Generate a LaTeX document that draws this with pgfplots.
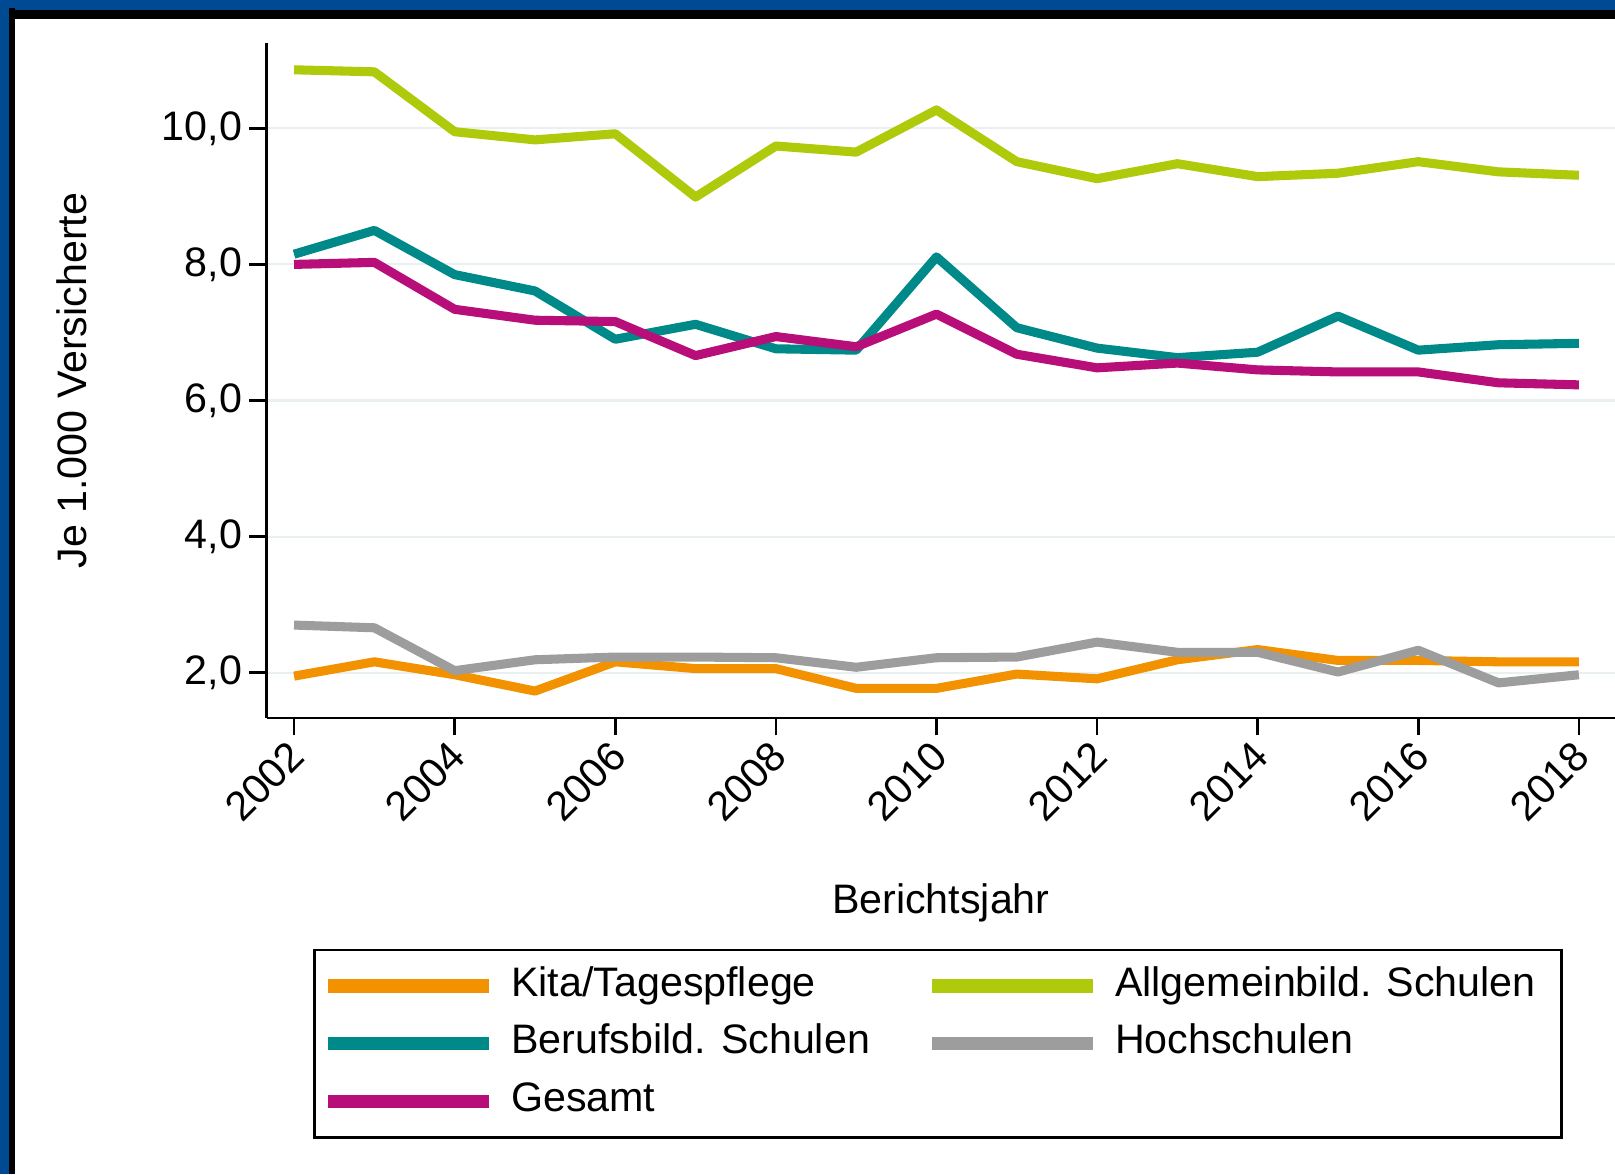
\documentclass[border=0pt]{standalone}
\usepackage{fontspec}
\setmainfont{Liberation Sans}
\usepackage{pgfplots}
\pgfplotsset{compat=1.18}
\definecolor{frameblue}{RGB}{0,74,147}
\definecolor{cKita}{RGB}{243,146,0}
\definecolor{cAllg}{RGB}{175,202,11}
\definecolor{cBeruf}{RGB}{0,137,137}
\definecolor{cHoch}{RGB}{157,157,157}
\definecolor{cGes}{RGB}{184,14,122}
\definecolor{cGrid}{RGB}{232,240,242}
\newcommand{\ff}{\fontsize{20}{24}\selectfont}
\begin{document}
\begin{tikzpicture}
\useasboundingbox (0,0) rectangle (784pt,570pt);
\fill[white] (0,0) rectangle (784pt,570pt);
\begin{axis}[
  at={(129.5pt,221.5pt)}, anchor=south west,
  scale only axis, width=654.5pt, height=327.5pt,
  xmin=2001.66, xmax=2018.45, ymin=1.336, ymax=11.25,
  axis x line*=bottom, axis y line*=left,
  axis line style={line width=1.3pt, -},
  every tick/.style={black, line width=1.3pt},
  tick align=outside, major tick length=8.5pt,
  xtick={2002,2004,...,2018},
  ytick={2,4,6,8,10},
  ymajorgrids, major grid style={cGrid, line width=1pt},
  /pgf/number format/assume math mode=true,
  ticklabel style={font=\ff},
  xticklabel style={xshift=-3.5pt, yshift=3.5pt, rotate=45, anchor=north east, /pgf/number format/1000 sep={}},
  yticklabel style={/pgf/number format/.cd, use comma, fixed, fixed zerofill, precision=1},
  xlabel={Berichtsjahr},
  xlabel style={font=\ff, at={(axis description cs:0.5,0)}, anchor=base, yshift=-94.75pt},
  ylabel={Je 1.000 Versicherte},
  ylabel style={font=\ff, at={(axis description cs:0,0.5)}, anchor=base, rotate=0, yshift=87.5pt},
  legend columns=2,
  legend cell align=left,
  legend image code/.code={\draw[#1, line width=6.5pt, line cap=butt] (0pt,0pt) -- (78pt,0pt);},
  legend style={
    at={(axis description cs:0.0344,-0.342)}, anchor=north west,
    draw=black, line width=1.3pt,
    font=\ff, inner xsep=3.5pt, inner ysep=8pt,
    nodes={inner sep=0pt, text height=14.5pt, text depth=4.5pt},
    row sep=9pt,
    /tikz/every odd column/.append style={column sep=7.5pt},
    /tikz/every even column/.append style={column sep=27pt},
  },
  every axis plot/.append style={line width=4.4pt, line join=round, line cap=butt},
]
\addplot[cKita] coordinates {
(2002,1.95)(2003,2.16)(2004,1.97)(2005,1.73)(2006,2.16)(2007,2.06)(2008,2.06)(2009,1.77)(2010,1.77)
(2011,1.98)(2012,1.91)(2013,2.19)(2014,2.34)(2015,2.18)(2016,2.18)(2017,2.16)(2018,2.16)};
\addlegendentry{Kita/Tagespflege}
\addplot[cAllg] coordinates {
(2002,10.86)(2003,10.83)(2004,9.95)(2005,9.83)(2006,9.92)(2007,8.99)(2008,9.74)(2009,9.65)(2010,10.27)
(2011,9.51)(2012,9.26)(2013,9.48)(2014,9.29)(2015,9.34)(2016,9.51)(2017,9.36)(2018,9.31)};
\addlegendentry{Allgemeinbild. Schulen\kern9pt}
\addplot[cBeruf] coordinates {
(2002,8.15)(2003,8.50)(2004,7.85)(2005,7.61)(2006,6.90)(2007,7.12)(2008,6.76)(2009,6.74)(2010,8.11)
(2011,7.07)(2012,6.77)(2013,6.63)(2014,6.71)(2015,7.24)(2016,6.74)(2017,6.82)(2018,6.84)};
\addlegendentry{Berufsbild. Schulen}
\addplot[cHoch] coordinates {
(2002,2.70)(2003,2.66)(2004,2.03)(2005,2.19)(2006,2.23)(2007,2.23)(2008,2.22)(2009,2.08)(2010,2.22)
(2011,2.23)(2012,2.45)(2013,2.30)(2014,2.30)(2015,2.01)(2016,2.33)(2017,1.85)(2018,1.97)};
\addlegendentry{Hochschulen}
\addplot[cGes] coordinates {
(2002,8.00)(2003,8.03)(2004,7.34)(2005,7.18)(2006,7.16)(2007,6.66)(2008,6.94)(2009,6.79)(2010,7.27)
(2011,6.68)(2012,6.48)(2013,6.55)(2014,6.45)(2015,6.42)(2016,6.42)(2017,6.26)(2018,6.23)};
\addlegendentry{Gesamt}
\end{axis}
\fill[black] (0,561pt) rectangle (784pt,566pt);
\fill[frameblue] (0,565pt) rectangle (784pt,570pt);
\fill[black] (4.25pt,0) rectangle (7.25pt,566pt);
\fill[frameblue] (0,0) rectangle (4.25pt,570pt);
\end{tikzpicture}
\end{document}
